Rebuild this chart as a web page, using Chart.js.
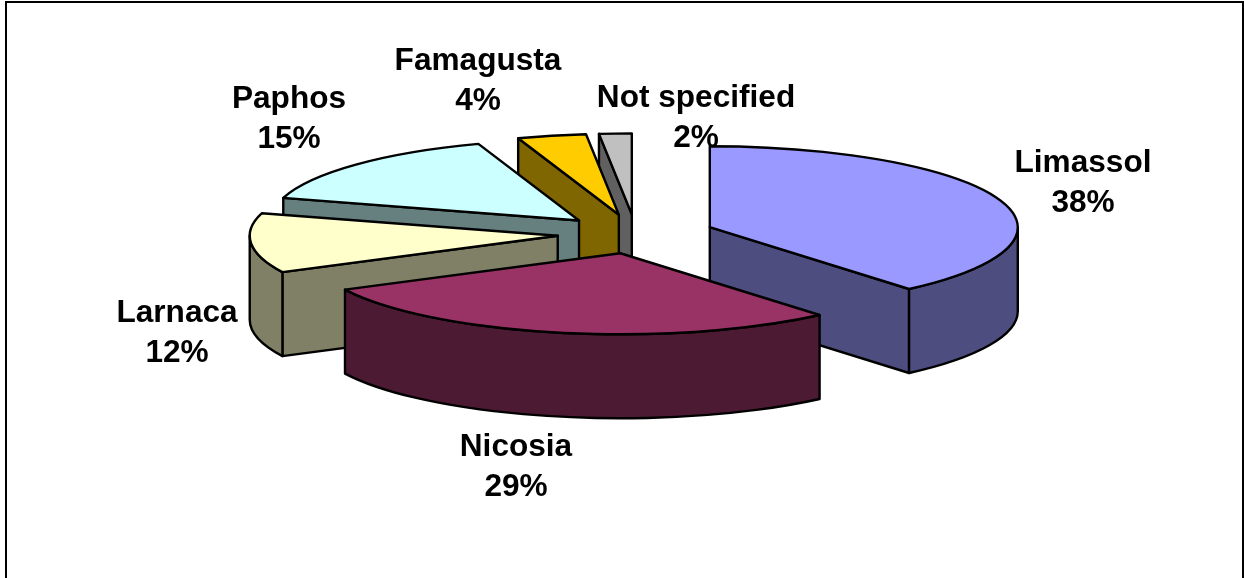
<!DOCTYPE html>
<html>
<head>
<meta charset="utf-8">
<title>Pie chart</title>
<script src="https://cdn.jsdelivr.net/npm/chart.js@4"></script>
<style>
    body { margin: 0; background: #fff; }
    canvas { display: block; }
</style>
</head>
<body>
<canvas id="pieChart" width="1244" height="578"></canvas>
<script>
const categories = ['Limassol', 'Nicosia', 'Larnaca', 'Paphos', 'Famagusta', 'Not specified'];
const shares = [38.8, 28.8, 11.9, 15.2, 3.6, 1.7];
const shareLabels = ['38%', '29%', '12%', '15%', '4%', '2%'];
const topColors = ['#9999FF', '#993366', '#FFFFCC', '#CCFFFF', '#FFCC00', '#C0C0C0'];
const wallColors = ['#4D4D80', '#4D1A33', '#808066', '#668080', '#806600', '#606060'];

// label centres, not data
const labelSpots = [[1083, 163], [516, 447], [177, 313], [289, 99], [478, 61], [696, 98]];

const SQUASH = 0.263;
const DEPTH = 84;
const EXPLODE = 78.6;
const EXPLODE_FLAT = 0.25;

function drawLabels(ctx) {
    ctx.save();
    ctx.font = 'bold 31.6px "Liberation Sans", Arial, sans-serif';
    ctx.fillStyle = '#000';
    ctx.textAlign = 'center';
    ctx.textBaseline = 'middle';
    categories.forEach((name, i) => {
        const [x, y] = labelSpots[i];
        ctx.fillText(name, x, y);
        ctx.fillText(shareLabels[i], x, y + 40);
    });
    ctx.restore();
}

function paint(ctx, fill) {
    ctx.fillStyle = fill;
    ctx.fill();
    ctx.stroke();
}

function drawSlice(ctx, arc, i) {
    const mid = (arc.startAngle + arc.endAngle) / 2;
    const R = arc.outerRadius;
    const Ry = R * SQUASH;
    const ax = arc.x + Math.cos(mid) * EXPLODE;
    const ay = arc.y + Math.sin(mid) * EXPLODE * EXPLODE_FLAT;
    const rim = a => [ax + Math.cos(a) * R, ay + Math.sin(a) * Ry];

    ctx.save();
    ctx.lineWidth = 2.4;
    ctx.strokeStyle = '#000';
    ctx.lineJoin = 'round';

    // radial walls, only the ones facing the viewer
    [[arc.startAngle, -1], [arc.endAngle, 1]].forEach(([a, side]) => {
        if (Math.cos(a) * side <= 0.001) return;
        const [px, py] = rim(a);
        ctx.beginPath();
        ctx.moveTo(ax, ay);
        ctx.lineTo(px, py);
        ctx.lineTo(px, py + DEPTH);
        ctx.lineTo(ax, ay + DEPTH);
        ctx.closePath();
        paint(ctx, wallColors[i]);
    });

    // outer wall, front half of the rim
    const from = Math.max(arc.startAngle, 0);
    const to = Math.min(arc.endAngle, Math.PI);
    if (to > from) {
        ctx.beginPath();
        ctx.ellipse(ax, ay, R, Ry, 0, from, to);
        ctx.ellipse(ax, ay + DEPTH, R, Ry, 0, to, from, true);
        ctx.closePath();
        paint(ctx, wallColors[i]);
    }

    // top face goes through the arc element, flattened
    ctx.save();
    ctx.translate(ax, ay);
    ctx.scale(1, SQUASH);
    ctx.translate(-arc.x, -arc.y);
    arc.draw(ctx);
    ctx.restore();

    const [sx, sy] = rim(arc.startAngle);
    ctx.beginPath();
    ctx.moveTo(ax, ay);
    ctx.lineTo(sx, sy);
    ctx.ellipse(ax, ay, R, Ry, 0, arc.startAngle, arc.endAngle);
    ctx.closePath();
    ctx.stroke();
    ctx.restore();
}

const pie3d = {
    id: 'pie3d',
    beforeDatasetDraw(chart, args) {
        const ctx = chart.ctx;
        drawLabels(ctx); // slices sit on top of the labels

        // back to front
        const arcs = args.meta.data.map((arc, i) => ({ arc, i }));
        arcs.sort((p, q) =>
            Math.sin((p.arc.startAngle + p.arc.endAngle) / 2) -
            Math.sin((q.arc.startAngle + q.arc.endAngle) / 2));
        arcs.forEach(({ arc, i }) => drawSlice(ctx, arc, i));
        return false;
    },
    afterDraw(chart) {
        const ctx = chart.ctx;
        ctx.save();
        ctx.strokeStyle = '#000';
        ctx.lineWidth = 2;
        ctx.beginPath();
        ctx.moveTo(6, 578);
        ctx.lineTo(6, 2);
        ctx.lineTo(1243, 2);
        ctx.lineTo(1243, 578);
        ctx.stroke();
        ctx.restore();
    }
};

new Chart(document.getElementById('pieChart'), {
    type: 'pie',
    data: {
        labels: categories,
        datasets: [{
            data: shares,
            backgroundColor: topColors,
            borderWidth: 0
        }]
    },
    options: {
        responsive: false,
        animation: false,
        events: [],
        radius: 308,
        layout: { padding: { left: 28, right: 0, top: 0, bottom: 110 } },
        plugins: {
            legend: { display: false },
            tooltip: { enabled: false }
        }
    },
    plugins: [pie3d]
});
</script>
</body>
</html>
